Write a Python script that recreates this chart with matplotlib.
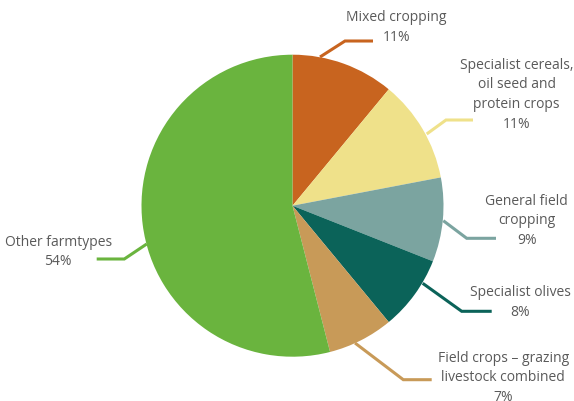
import matplotlib as mpl
from matplotlib import pyplot as plt

mpl.rcParams['font.family'] = ['Open Sans', 'DejaVu Sans']

# farm type shares (%)
labels = ['Mixed cropping',
          'Specialist cereals,\noil seed and\nprotein crops',
          'General field\ncropping',
          'Specialist olives',
          'Field crops – grazing\nlivestock combined',
          'Other farmtypes']
shares = [11, 11, 9, 8, 7, 54]
colors = ['#C8641F', '#EFE18A', '#7BA4A0', '#0B6359', '#C89A58', '#6AB43E']

# layout in pixels (origin top-left)
W, H = 574, 402
center = (292.5, 206.7)
radius = 151
leaders = [
    [(320, 58), (345, 42), (373, 42)],
    [(426.7, 135), (446, 121), (473, 121)],
    [(443.3, 221.7), (466.7, 239.3), (496, 239.3)],
    [(422.7, 284.3), (461.7, 312.3), (491.7, 312.3)],
    [(355, 344), (403.3, 380.7), (431.7, 380.7)],
    [(146.7, 245), (124.3, 260), (96.7, 260)],
]
text_pos = [(396.7, 27.8), (516.7, 94.8), (526.7, 221), (520, 302.8),
            (503.3, 378), (58.3, 252)]

fig = plt.figure(figsize=(W / 100, H / 100), dpi=100)
ax = fig.add_axes([0, 0, 1, 1])

# y axis runs downwards, so counterclock=True draws clockwise on screen
ax.pie(shares, colors=colors, center=center, radius=radius,
       startangle=-90, counterclock=True,
       wedgeprops=dict(linewidth=0))
ax.set_xlim(0, W)
ax.set_ylim(H, 0)
ax.set_aspect('equal')
ax.axis('off')

for label, share, color, pts, (tx, ty) in zip(labels, shares, colors, leaders, text_pos):
    xs, ys = zip(*pts)
    ax.plot(xs, ys, color=color, lw=2.2, solid_capstyle='butt',
            solid_joinstyle='miter', zorder=0)
    ax.text(tx, ty, f'{label}\n{share}%', ha='center', va='center',
            fontsize=10, color='#5a5a5a', linespacing=1.42)

fig.savefig('out.png', dpi=100)
